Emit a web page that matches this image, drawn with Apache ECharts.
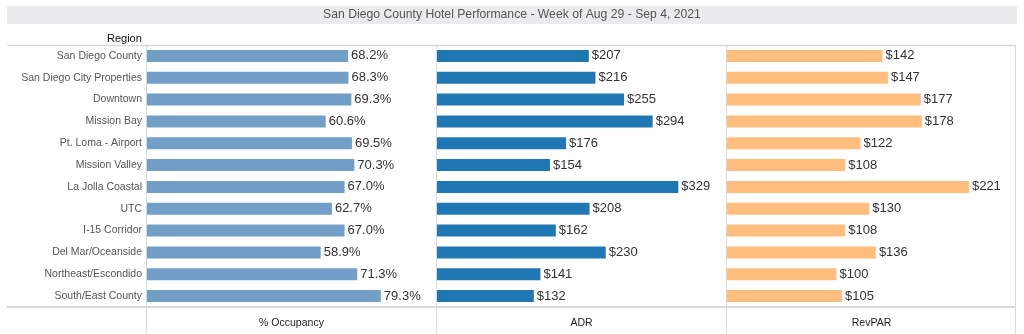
<!DOCTYPE html>
<html><head><meta charset="utf-8">
<script src="https://cdn.jsdelivr.net/npm/echarts@6/dist/echarts.min.js"></script>
<style>html,body{margin:0;padding:0;background:#fff}#c{width:1024px;height:334px}</style>
</head><body><div id="c"></div>
<script>
const regions = ["San Diego County","San Diego City Properties","Downtown","Mission Bay","Pt. Loma - Airport","Mission Valley","La Jolla Coastal","UTC","I-15 Corridor","Del Mar/Oceanside","Northeast/Escondido","South/East County"];
const occupancy = [68.2,68.3,69.3,60.6,69.5,70.3,67.0,62.7,67.0,58.9,71.3,79.3];
const adr = [207,216,255,294,176,154,329,208,162,230,141,132];
const revpar = [142,147,177,178,122,108,221,130,108,136,100,105];
const measures = ["% Occupancy","ADR","RevPAR"];

const chart = echarts.init(document.getElementById('c'));
const F = 'Liberation Sans, Arial, sans-serif';
const lineC = '#d9d9d9';
const lefts = [147, 437, 727];
const grids = lefts.map(l => ({left: l, width: 289, top: 45, bottom: 27, containLabel: false}));
const maxes = [98, 394, 264];
const xAxes = measures.map((m, i) => ({
  type: 'value', gridIndex: i, min: 0, max: maxes[i],
  axisLabel: {show: false}, axisLine: {show: false}, axisTick: {show: false}, splitLine: {show: false},
  name: m, nameLocation: 'middle', nameGap: 11,
  nameTextStyle: {fontFamily: F, fontSize: 10.5, color: '#222'}
}));
const yAxes = measures.map((m, i) => ({
  type: 'category', gridIndex: i, data: regions, inverse: true,
  axisLine: {show: false}, axisTick: {show: false},
  axisLabel: {show: i === 0, fontFamily: F, fontSize: 10.5, color: '#555', margin: 5}
}));
const colors = ['#729fc8', '#1f77b4', '#ffbe7d'];
const datas = [occupancy, adr, revpar];
const fmts = [v => v.toFixed(1) + '%', v => '$' + v, v => '$' + v];
const series = datas.map((d, i) => ({
  type: 'bar', xAxisIndex: i, yAxisIndex: i, data: d, barWidth: 12,
  itemStyle: {color: colors[i]},
  label: {show: true, position: 'right', distance: 3, fontFamily: F, fontSize: 13, color: '#333',
    formatter: p => fmts[i](p.value)},
  silent: true
}));
const ln = (x1, y1, x2, y2, w) => ({type: 'line', shape: {x1, y1, x2, y2}, style: {stroke: lineC, lineWidth: w || 1}, silent: true});
chart.setOption({
  animation: false,
  title: [
    {text: 'San Diego County Hotel Performance - Week of Aug 29 - Sep 4, 2021', left: 'center', top: 9, padding: 0,
      textStyle: {fontFamily: F, fontSize: 12.2, fontWeight: 'normal', color: '#555'}},
    {text: 'Region', left: 107, top: 33, padding: 0, textStyle: {fontFamily: F, fontSize: 11, fontWeight: 'normal', color: '#111'}}
  ],
  graphic: [
    {type: 'rect', shape: {x: 7, y: 6, width: 1010, height: 18}, style: {fill: '#ebebed'}, z: -1, silent: true},
    ln(7, 45.5, 1016, 45.5, 1.5),
    ln(7, 307, 1016, 307, 2),
    ln(146.5, 45, 146.5, 334),
    ln(436.5, 45, 436.5, 334),
    ln(726.5, 45, 726.5, 334),
    ln(1015.5, 45, 1015.5, 334)
  ],
  grid: grids, xAxis: xAxes, yAxis: yAxes, series
});
</script></body></html>
